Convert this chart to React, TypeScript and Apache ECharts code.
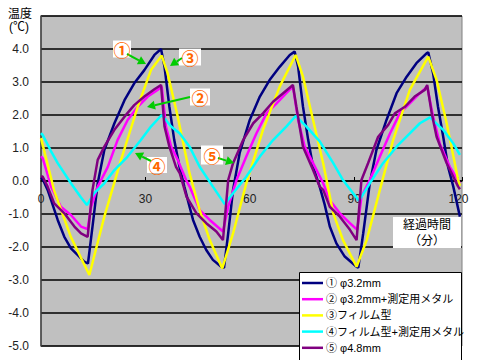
import React, { useEffect, useRef } from "react";
import * as echarts from "echarts";

const FONT = "'Liberation Sans', 'Noto Sans CJK JP', sans-serif";

const seriesNames = [
  "① φ3.2mm",
  "② φ3.2mm+測定用メタル",
  "③フィルム型",
  "④フィルム型+測定用メタル",
  "⑤ φ4.8mm",
];
const seriesColors = ["#000080", "#ff00ff", "#ffff00", "#00ffff", "#800080"];

// [minutes, °C]
const navy = [
  [0, 0.1], [0.5, 0.05], [1.9, -0.27], [2.9, -0.58], [4.8, -1.18], [6.7, -1.69], [8.6, -2.04], [10.5, -2.24],
  [12.4, -2.44], [13.5, -2.5], [14.8, -1.38], [16.3, -0.07], [18.2, 0.94], [21.1, 1.75], [24, 2.45],
  [26.8, 2.96], [29.7, 3.36], [32.6, 3.82], [34.5, 4.0], [35.5, 3.46], [36.9, 2.25], [38.3, 1.24],
  [39.8, 0.43], [41.2, -0.17], [42.5, -0.7], [43.7, -1.18], [45.6, -1.69], [47.5, -2.09], [49.4, -2.39],
  [51.8, -2.6], [52.6, -2.63], [53.8, -1.59], [55.2, -0.27], [57.1, 0.85], [60, 1.85], [62.9, 2.56],
  [65.7, 3.06], [68.6, 3.46], [71.5, 3.82], [72.9, 3.92], [73.9, 3.46], [75.3, 2.25], [76.8, 1.24],
  [78.2, 0.43], [80.1, -0.17], [81.5, -0.7], [83, -1.38], [84.9, -1.89], [87.3, -2.29], [90.7, -2.6],
  [91.2, -2.62], [92.6, -1.59], [94.5, -0.07], [96.4, 0.94], [99.3, 1.85], [102.2, 2.66], [105.1, 3.16],
  [107.9, 3.57], [110.8, 3.87], [111.3, 3.9], [112.7, 3.26], [114.1, 2.25], [115.6, 1.34], [117, 0.43],
  [118.5, -0.17], [120.4, -1.08],
];
const magenta = [
  [0, 0.75], [0.5, 0.69], [2.9, -0.17], [5.7, -0.78], [8.6, -1.03], [11.5, -1.38], [13.4, -1.46],
  [14.4, -0.78], [16.3, -0.17], [19.2, 0.43], [22, 1.24], [24.9, 1.85], [27.8, 2.25], [30.7, 2.56],
  [33.5, 2.76], [34.7, 2.86], [35.9, 1.65], [37.4, 1.04], [39.3, 0.64], [41.7, 0.03], [42.7, -0.17],
  [45.6, -0.88], [48.5, -1.18], [52.3, -1.53], [53.8, -0.78], [56.2, 0.03], [59, 0.74], [61.9, 1.44],
  [64.8, 2.05], [67.7, 2.35], [70.5, 2.66], [72.4, 2.86], [73.9, 1.85], [75.8, 1.04], [78.2, 0.54],
  [81.1, -0.07], [83, -0.58], [85.9, -0.98], [88.8, -1.28], [90.9, -1.48], [92.1, -0.47], [94.5, 0.03],
  [97.4, 0.74], [100.3, 1.44], [103.1, 2.05], [106, 2.35], [108.9, 2.66], [111, 2.86], [112.7, 1.95],
  [114.6, 1.14], [117.5, 0.43], [120.4, -0.07],
];
const yellow = [
  [0, 1.3], [3.8, -0.3], [8.6, -1.7], [13.9, -2.85], [18.2, -1.08], [23, 0.64], [27.8, 2.25], [31.6, 3.36],
  [34.7, 3.8], [36.4, 3.26], [39.3, 1.95], [42.7, 0.23], [45.6, -0.88], [48.5, -1.79], [52.1, -2.65],
  [55.2, -1.59], [59, -0.07], [63.8, 1.55], [68.6, 2.86], [73.2, 3.82], [75.3, 3.16], [78.2, 1.85],
  [81.1, 0.54], [84, -0.98], [86.8, -1.79], [90.7, -2.6], [93.6, -1.79], [97.4, -0.27], [101.2, 1.24],
  [106, 2.76], [111.3, 3.77], [113.7, 3.06], [116.6, 1.75], [119.9, 0.03], [120.4, -0.15],
];
const cyan = [
  [0, 1.45], [0.5, 1.39], [2.9, 0.9], [4.8, 0.54], [8.6, -0.07], [11.5, -0.5], [13.2, -0.73], [15.3, -0.37],
  [18.2, -0.07], [21.1, 0.33], [24.9, 0.74], [28.7, 1.24], [31.6, 1.65], [34.7, 2.0], [37.4, 1.65],
  [39.9, 1.44], [42.7, 1.04], [45.6, 0.43], [49.4, -0.17], [52.8, -0.7], [55.2, -0.37], [59, 0.13],
  [62.9, 0.74], [66.7, 1.24], [70.5, 1.65], [73.2, 1.97], [76.3, 1.65], [80.1, 1.2], [84, 0.54],
  [86.8, 0.03], [89.7, -0.37], [91.4, -0.6], [94.5, -0.07], [98.3, 0.54], [102.2, 1.04], [106, 1.44],
  [108.9, 1.75], [111.8, 1.93], [115.6, 1.55], [118.5, 1.14], [120.4, 0.79],
];
const purple = [
  [0, 0.15], [0.5, 0.13], [1.9, -0.17], [3.8, -0.68], [6.7, -0.98], [9.6, -1.38], [11.5, -1.59],
  [13.4, -1.69], [14.8, -0.27], [16.3, 0.64], [18.2, 1.04], [21.1, 1.55], [24, 1.95], [26.8, 2.3],
  [29.7, 2.56], [32.6, 2.78], [34.5, 2.91], [35.5, 1.65], [36.9, 1.04], [38.8, 0.43], [39.9, 0.23],
  [41.8, -0.47], [44.7, -0.98], [47.5, -1.28], [50.4, -1.53], [52.3, -1.79], [53.8, 0.03], [55.2, 0.54],
  [58.1, 1.24], [61, 1.75], [63.8, 2.05], [66.7, 2.4], [69.6, 2.66], [72.4, 2.91], [73.4, 2.25],
  [75.3, 1.04], [78.2, 0.33], [80.1, -0.17], [81.1, -0.27], [83, -0.78], [85.9, -1.08], [88.8, -1.48],
  [90.7, -1.79], [92.1, 0.03], [94, 0.54], [96.9, 1.34], [99.8, 1.7], [101.7, 2.05], [104.6, 2.25],
  [107.4, 2.56], [110.3, 2.76], [111, 2.91], [112.3, 2.05], [113.7, 1.34], [116.6, 0.54], [119.9, -0.17],
  [120.4, -0.25],
];
const seriesData = [navy, magenta, yellow, cyan, purple];

const xTicks = [0, 30, 60, 90, 120];

function arrow(x1: number, y1: number, x2: number, y2: number) {
  const a = Math.atan2(y2 - y1, x2 - x1);
  const L = 8, W = 4.5;
  const bx = x2 - L * Math.cos(a), by = y2 - L * Math.sin(a);
  const px = -Math.sin(a) * W, py = Math.cos(a) * W;
  return [
    { type: "line", z: 50, shape: { x1, y1, x2: bx, y2: by }, style: { stroke: "#00cc00", lineWidth: 2 } },
    {
      type: "polygon", z: 50,
      shape: { points: [[x2, y2], [bx + px, by + py], [bx - px, by - py]] },
      style: { fill: "#00cc00" },
    },
  ];
}

function badge(label: string, cx: number, cy: number, w: number, h: number) {
  return [
    { type: "rect", z: 49, shape: { x: cx - w / 2, y: cy - h / 2, width: w, height: h }, style: { fill: "#ffffff" } },
    {
      type: "text", z: 51, x: cx, y: cy,
      style: { text: label, fill: "#ff6600", fontSize: 17, fontWeight: "bold", fontFamily: "'Noto Sans CJK JP', sans-serif", align: "center", verticalAlign: "middle" },
    },
  ];
}

function legendBox() {
  const items: any[] = [
    { type: "rect", z: 60, shape: { x: 299.5, y: 272.5, width: 162, height: 92 }, style: { fill: "#ffffff", stroke: "#000", lineWidth: 1 } },
  ];
  seriesNames.forEach((name, i) => {
    const cy = 283 + i * 16.2;
    items.push({ type: "line", z: 61, shape: { x1: 302, y1: cy, x2: 323, y2: cy }, style: { stroke: seriesColors[i], lineWidth: 2.5 } });
    items.push({ type: "text", z: 61, x: 326, y: cy, style: { text: name, fontSize: 11, fill: "#000", fontFamily: FONT, align: "left", verticalAlign: "middle" } });
  });
  return items;
}

export default function App() {
  const ref = useRef<HTMLDivElement>(null);
  useEffect(() => {
    if (!ref.current) return;
    const chart = echarts.init(ref.current, null, { renderer: "svg" });
    const graphic: any[] = [
      ...badge("①", 122, 49, 18, 17),
      ...badge("③", 190, 57, 22, 17),
      ...badge("②", 200, 97, 20, 17),
      ...badge("④", 157, 165, 20, 16),
      ...badge("⑤", 212, 155, 22, 19),
      ...arrow(127, 54, 146, 64),
      ...arrow(182, 58, 170, 66),
      ...arrow(190, 97, 147, 107),
      ...arrow(151, 161, 135, 153),
      ...arrow(218, 158, 234, 163),
      { type: "rect", z: 49, shape: { x: 393, y: 217, width: 68, height: 31 }, style: { fill: "#ffffff" } },
      { type: "text", z: 51, x: 427, y: 225, style: { text: "経過時間", fontSize: 12, fill: "#000", fontFamily: FONT, align: "center", verticalAlign: "middle" } },
      { type: "text", z: 51, x: 427, y: 241, style: { text: "（分）", fontSize: 12, fill: "#000", fontFamily: FONT, align: "center", verticalAlign: "middle" } },
      { type: "text", z: 51, x: 20, y: 14, style: { text: "温度", fontSize: 12, fill: "#000", fontFamily: FONT, align: "center", verticalAlign: "middle" } },
      { type: "text", z: 51, x: 19, y: 27, style: { text: "(℃)", fontSize: 12, fill: "#000", fontFamily: FONT, align: "center", verticalAlign: "middle" } },
      ...legendBox(),
    ];
    chart.setOption({
      animation: false,
      backgroundColor: "#ffffff",
      grid: {
        left: 41, right: 18, top: 16, bottom: 14, containLabel: false, outerBoundsMode: "none",
        show: true, backgroundColor: "#c0c0c0", borderColor: "#808080", borderWidth: 1,
      },
      xAxis: {
        type: "value", min: 0, max: 121, interval: 30, position: "bottom", offset: -165,
        axisLine: { onZero: false, lineStyle: { color: "#000", width: 1.5 } },
        axisTick: { inside: true, length: 4, lineStyle: { color: "#000" } },
        axisLabel: {
          margin: 12, fontSize: 12, color: "#222", fontFamily: FONT,
          formatter: (v: number) => (xTicks.indexOf(v) >= 0 ? String(v) : ""),
        },
        splitLine: { show: false },
      },
      yAxis: {
        type: "value", min: -5, max: 5, interval: 1,
        axisLine: { show: true, onZero: false, lineStyle: { color: "#404040", width: 1.5 } },
        axisTick: { show: false },
        axisLabel: { showMaxLabel: false, margin: 12, fontSize: 12, color: "#222", fontFamily: FONT, formatter: (v: number) => v.toFixed(1) },
        splitLine: { lineStyle: { color: "#000", width: 1.5 } },
      },
      series: seriesNames.map((name, i) => ({
        name, type: "line", symbol: "none", data: seriesData[i],
        lineStyle: { color: seriesColors[i], width: 2.5 },
        itemStyle: { color: seriesColors[i] },
      })),
      graphic,
    });
    return () => chart.dispose();
  }, []);
  return <div ref={ref} style={{ position: "fixed", left: 0, top: 0, width: 480, height: 360 }} />;
}
